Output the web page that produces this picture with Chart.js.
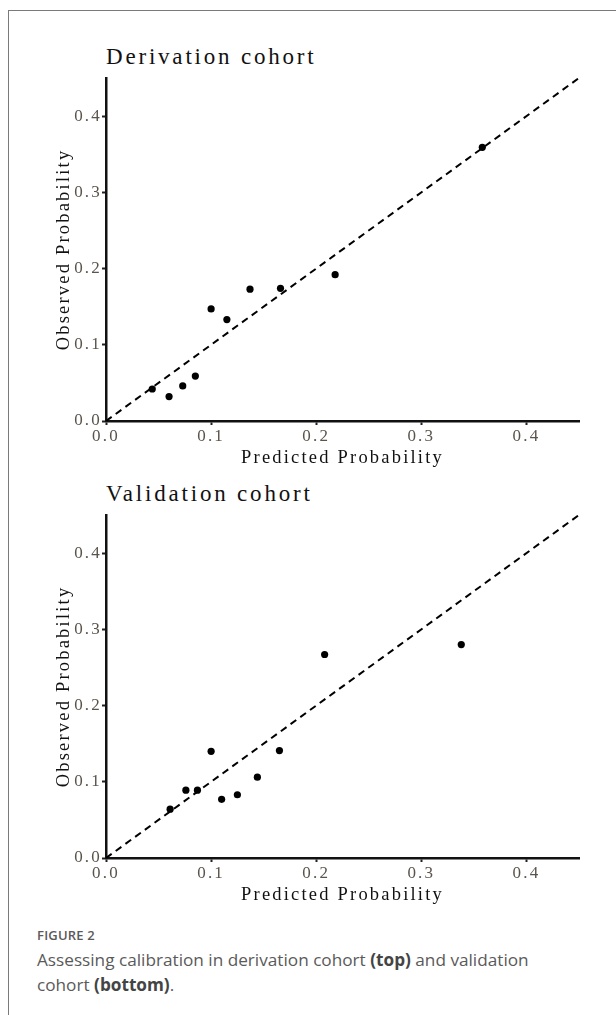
<!DOCTYPE html>
<html>
<head>
<meta charset="utf-8">
<script src="https://cdn.jsdelivr.net/npm/chart.js@4/dist/chart.umd.min.js"></script>
<style>
  html, body { margin: 0; padding: 0; background: #fff; }
  body { width: 616px; height: 1015px; position: relative; overflow: hidden; }
  .frame { position: absolute; left: 8px; top: 10px; right: -2px; bottom: -2px; border: 1px solid #7a7a7a; }
  .panel { position: absolute; left: 0; width: 616px; height: 439px; }
  .panel canvas { display: block; }
  .title { position: absolute; left: 106px; font-family: 'Liberation Serif', serif; font-size: 23px; line-height: 26px; letter-spacing: 2.8px; color: #111; }
  .caption { position: absolute; left: 37px; top: 925px; width: 530px; font-family: 'Open Sans', sans-serif; color: #5a5a5a; }
  .caption .fig { font-size: 13px; font-weight: 600; letter-spacing: 0.2px; line-height: 20px; }
  .caption .txt { font-size: 17.2px; line-height: 24.5px; margin-top: 3px; }
  .caption b { color: #444; font-weight: 700; }
</style>
</head>
<body>
<div class="frame"></div>
<div class="title" style="top:44px">Derivation cohort</div>
<div class="title" style="top:481px">Validation cohort</div>
<div class="panel" style="top:30px"><canvas id="derivChart" width="616" height="439"></canvas></div>
<div class="panel" style="top:467px"><canvas id="validChart" width="616" height="439"></canvas></div>
<div class="caption">
  <div class="fig">FIGURE 2</div>
  <div class="txt">Assessing calibration in derivation cohort <b>(top)</b> and validation cohort <b>(bottom)</b>.</div>
</div>

<script>
// ---------------------------------------------------------
// DATA
// ---------------------------------------------------------
const derivPredicted = [0.044, 0.060, 0.073, 0.085, 0.100, 0.115, 0.137, 0.166, 0.218, 0.358];
const derivObserved  = [0.042, 0.032, 0.046, 0.059, 0.147, 0.133, 0.173, 0.174, 0.192, 0.359];

const validPredicted = [0.061, 0.076, 0.087, 0.100, 0.110, 0.125, 0.144, 0.165, 0.208, 0.338];
const validObserved  = [0.064, 0.089, 0.089, 0.140, 0.077, 0.083, 0.106, 0.141, 0.267, 0.280];

// ideal calibration line y = x
const diagonal = [0, 0.45];

const tickValues = [0, 0.1, 0.2, 0.3, 0.4];
const axisMin = 0;
const axisMax = 0.45;

// ---------------------------------------------------------
// CHART SETUP
// ---------------------------------------------------------
Chart.defaults.font.family = "'Liberation Serif', serif";
Chart.defaults.color = '#555';

// the original uses a wide half-width serif; widen Times a bit
const spacingPlugin = {
    id: 'letterSpacing',
    beforeUpdate: (chart) => { chart.ctx.letterSpacing = '2.2px'; },
    beforeDraw: (chart) => { chart.ctx.letterSpacing = '2.2px'; }
};

function toPoints(xs, ys) {
    return xs.map((x, i) => ({ x: x, y: ys[i] }));
}

function axisOptions(titleText, isX) {
    return {
        type: 'linear',
        min: axisMin,
        max: axisMax,
        afterBuildTicks: (scale) => {
            scale.ticks = tickValues.map(v => ({ value: v }));
        },
        afterFit: (scale) => {
            if (isX) scale.height = 48;
            else scale.width = 58;
        },
        ticks: {
            color: '#5a544c',
            font: { size: 17 },
            padding: isX ? 1 : 0,
            callback: (v) => Number(v).toFixed(1)
        },
        grid: {
            drawOnChartArea: false,
            drawTicks: true,
            tickLength: 4,
            tickColor: '#222',
            tickWidth: 2
        },
        border: { display: true, color: '#111', width: 2.5 },
        title: {
            display: true,
            text: titleText,
            color: '#111',
            font: { size: 18.5 },
            padding: isX ? { top: 0, bottom: 0 } : { top: 5, bottom: 0 }
        }
    };
}

function renderCalibration(canvasId, predicted, observed) {
    const ctx = document.getElementById(canvasId);
    return new Chart(ctx, {
        type: 'scatter',
        data: {
            datasets: [
                {
                    label: 'Observed',
                    data: toPoints(predicted, observed),
                    backgroundColor: '#000',
                    borderColor: '#000',
                    pointRadius: 3.6,
                    pointBorderWidth: 0,
                    order: 1
                },
                {
                    type: 'line',
                    label: 'Ideal',
                    data: toPoints(diagonal, diagonal),
                    borderColor: '#000',
                    borderWidth: 2,
                    borderDash: [7, 5],
                    pointRadius: 0,
                    fill: false,
                    order: 2
                }
            ]
        },
        options: {
            responsive: false,
            animation: false,
            layout: { padding: { left: 48, right: 37, top: 48, bottom: 0 } },
            plugins: {
                legend: { display: false },
                tooltip: { enabled: false }
            },
            scales: {
                x: axisOptions('Predicted Probability', true),
                y: axisOptions('Observed Probability', false)
            }
        },
        plugins: [spacingPlugin]
    });
}

renderCalibration('derivChart', derivPredicted, derivObserved);
renderCalibration('validChart', validPredicted, validObserved);
</script>
</body>
</html>
